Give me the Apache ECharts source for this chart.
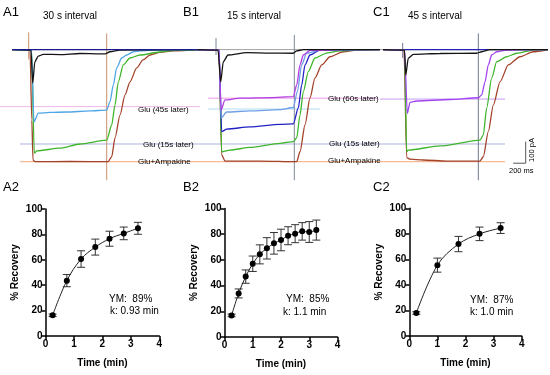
<!DOCTYPE html>
<html><head><meta charset="utf-8">
<script src="https://cdn.jsdelivr.net/npm/echarts@6/dist/echarts.min.js"></script>
<style>html,body{margin:0;padding:0;background:#fff}#c{width:550px;height:375px}</style>
</head><body><div id="c"></div>
<script>
// ===== Recovery data (bottom panels) =====
const timeA = [0.25,0.75,1.25,1.75,2.25,2.75,3.25];
const recA  = [16.3,43.6,60.6,70,76.6,80.8,84.8];
const errA  = [1,4.8,6.5,6.3,5.9,5,4.7];
const timeB = [0.25,0.5,0.75,1,1.25,1.5,1.75,2,2.25,2.5,2.75,3,3.25];
const recB  = [16.8,33.9,47,57,64.3,69,72.9,75.5,78.8,80.4,82.2,81.7,83.2];
const errB  = [1,3.5,5.2,6,7.4,8.3,8.4,8.4,7,7,6.8,8.1,7.8];
const timeC = [0.25,1,1.75,2.5,3.25];
const recC  = [18,55.5,72,80,84.5];
const errC  = [1,5.5,6,5.3,4.2];
const fitA = ['YM:  89%','k: 0.93 min'];
const fitB = ['YM:  85%','k: 1.1 min'];
const fitC = ['YM:  87%','k: 1.0 min'];
const yTickMax = 100, yTickStep = 20, xTickMax = 4, xTickStep = 1;

// ===== Current traces (top panels): [time ms from Glu onset, current pA] =====
const a1Navy  = [[-312,0],[2696,0]];
const a1Black = [[-312,0],[-8,-2],[19,-155],[54,-56],[109,-30],[189,-22],[456,-23],[776,-18],[1096,-20],[1176,-20],[1256,-10],[1416,-2],[2696,0]];
const a1Cyan  = [[-312,0],[0,-2],[40,-334],[109,-294],[296,-291],[563,-289],[936,-284],[1203,-280],[1256,-241],[1309,-164],[1363,-85],[1443,-39],[1523,-25],[1629,-10],[1736,-6],[2056,-2],[2696,0]];
const a1Green = [[-312,0],[0,-2],[45,-480],[83,-469],[456,-456],[776,-437],[1203,-419],[1283,-349],[1336,-256],[1389,-149],[1469,-71],[1576,-39],[1736,-25],[2056,-11],[2296,-4],[2696,0]];
const a1Brown = [[-312,0],[-24,0],[5,-326],[24,-511],[56,-519],[616,-518],[1224,-519],[1283,-496],[1336,-409],[1416,-303],[1496,-210],[1576,-149],[1683,-85],[1784,-48],[1896,-25],[2056,-13],[2264,-6],[2696,0]];

const b1Black   = [[-336,0],[-16,-2],[27,-149],[69,-56],[144,-25],[443,-14],[816,-16],[1189,-17],[1243,-6],[1349,0],[2576,0]];
const b1Magenta = [[-336,0],[0,-2],[32,-280],[96,-233],[336,-225],[816,-222],[1189,-218],[1243,-164],[1296,-71],[1349,-25],[1456,-4],[1936,0]];
const b1Light   = [[-336,0],[0,-2],[32,-317],[123,-289],[496,-284],[976,-278],[1189,-268],[1253,-195],[1323,-71],[1403,-16],[1616,-2],[2576,0]];
const b1Blue    = [[-336,0],[0,-2],[43,-380],[123,-368],[496,-358],[976,-346],[1189,-344],[1269,-270],[1323,-164],[1376,-71],[1456,-25],[1616,-2],[2576,0]];
const b1Green   = [[-336,0],[0,-2],[43,-473],[176,-465],[496,-453],[976,-434],[1189,-426],[1243,-409],[1296,-303],[1349,-195],[1429,-102],[1536,-39],[1723,-16],[1936,-6],[2256,0],[2576,0]];
const b1Brown   = [[-336,0],[0,-2],[43,-488],[96,-516],[656,-516],[1243,-519],[1296,-473],[1376,-349],[1456,-224],[1536,-131],[1643,-71],[1776,-33],[1989,-10],[2203,-2],[2576,0]];

const c1Navy   = [[-352,0],[2288,0]];
const c1Black  = [[-352,0],[-8,-2],[11,-118],[53,-40],[133,-22],[560,-18],[1147,-17],[1227,-10],[1360,0],[2288,0]];
const c1Purple = [[-352,0],[-8,-2],[37,-295],[80,-244],[187,-238],[720,-231],[1173,-223],[1227,-210],[1280,-149],[1333,-71],[1387,-25],[1467,-10],[1627,-2],[2288,0]];
const c1Green  = [[-352,0],[-8,-2],[27,-473],[53,-465],[560,-446],[1200,-419],[1253,-395],[1307,-270],[1387,-131],[1467,-56],[1627,-33],[1787,-17],[2053,-2],[2288,0]];
const c1Brown  = [[-352,0],[-16,-2],[27,-500],[80,-507],[293,-511],[667,-516],[1200,-516],[1253,-496],[1333,-380],[1413,-257],[1520,-149],[1653,-71],[1840,-33],[2053,-10],[2267,-2]];

// Glu application marks (ms from onset)
const pulseA = [-45, 1203], pulseB = [-48, 1205], pulseC = [-37, 1173];
// reference current levels (pA)
const lvlA45 = -264, lvl15 = -437, lvlAmp = -519, lvlB60 = -225, lvlBlt = -275, lvlC60 = -229;
const scaleMs = 200, scalePA = 100;

// ===== layout (top sweep offsets in ms along the shared top axis) =====
const onsetA = 504, onsetB = 3504, onsetC = 6480;
const FONT = 'Liberation Sans, Arial, sans-serif';

const shift = (arr, off) => arr.map(p => [p[0] + off, p[1]]);
function trace(data, off, color) {
  return { type:'line', xAxisIndex:0, yAxisIndex:0, data: shift(data, off), showSymbol:false,
    smooth:0.25, smoothMonotone:'x', lineStyle:{color, width:1.3}, z:5, silent:true, animation:false };
}
function hline(level, x1, x2, color) {
  return { type:'line', xAxisIndex:0, yAxisIndex:0, data:[[x1,level],[x2,level]], showSymbol:false,
    lineStyle:{color, width:1}, z:2, silent:true, animation:false };
}
function vline(t, v1, v2, color) {
  return { type:'line', xAxisIndex:0, yAxisIndex:0, data:[[t,v1],[t,v2]], showSymbol:false,
    lineStyle:{color, width:1}, z:3, silent:true, animation:false };
}

const series = [];
// reference lines
series.push(hline(0, 192, 8768, '#a0a0a0'));
series.push(hline(lvlA45, 0, 3200, '#f0b6ea'));
series.push(hline(lvl15, 320, 8080, '#a9b3df'));
series.push(hline(lvlAmp, 320, 8080, '#f2a87a'));
series.push(hline(lvlB60, 3328, 6048, '#e99ae9'));
series.push(hline(lvlBlt, 3328, 5120, '#b0dcf2'));
series.push(hline(lvlC60, 6080, 8080, '#c89cf2'));
// pulse marks
series.push(vline(onsetA + pulseA[0], 80, -45, '#c9906c'));
series.push(vline(onsetA + pulseA[1], 75, -605, '#c9906c'));
series.push(vline(onsetB + pulseB[0], 54, -25, '#7d8898'));
series.push(vline(onsetB + pulseB[1], 68, -605, '#7d8898'));
series.push(vline(onsetC + pulseC[0], 31, -39, '#6c7890'));
series.push(vline(onsetC + pulseC[1], 75, -605, '#6c7890'));
// traces
series.push(trace(a1Brown, onsetA, '#a3432b'));
series.push(trace(a1Green, onsetA, '#3fb52c'));
series.push(trace(a1Cyan, onsetA, '#4fa6e6'));
series.push(trace(a1Black, onsetA, '#141414'));
series.push(trace(a1Navy, onsetA, '#1c1c8a'));
series.push(trace(b1Brown, onsetB, '#a3432b'));
series.push(trace(b1Green, onsetB, '#3fb52c'));
series.push(trace(b1Blue, onsetB, '#2222c4'));
series.push(trace(b1Light, onsetB, '#6e9fe8'));
series.push(trace(b1Magenta, onsetB, '#b23ee0'));
series.push(trace(b1Black, onsetB, '#141414'));
series.push(trace(c1Brown, onsetC, '#a3432b'));
series.push(trace(c1Navy, onsetC, '#2424b0'));
series.push(trace(c1Green, onsetC, '#3fb52c'));
series.push(trace(c1Purple, onsetC, '#a244f0'));
series.push(trace(c1Black, onsetC, '#141414'));
// scale bar
const sbX = 8411, sbY = -526;
series.push({ type:'line', xAxisIndex:0, yAxisIndex:0, showSymbol:false, silent:true, animation:false,
  data:[[sbX - scaleMs, sbY],[sbX, sbY],[sbX, sbY + scalePA]], lineStyle:{color:'#555', width:1}, z:6 });

// bottom panels
function recovery(idx, times, means, errs) {
  const pts = times.map((t,i) => [t, means[i]]);
  series.push({ type:'custom', xAxisIndex:idx, yAxisIndex:idx, silent:true, animation:false, z:3,
    data: times.map((t,i) => [t, means[i], errs[i]]),
    encode:{x:0, y:1},
    renderItem: (params, api) => {
      const x = api.value(0), y = api.value(1), e = api.value(2);
      const top = api.coord([x, y + e]), bot = api.coord([x, y - e]);
      const st = {stroke:'#333', lineWidth:1};
      return { type:'group', children:[
        {type:'line', shape:{x1:top[0], y1:top[1], x2:bot[0], y2:bot[1]}, style:st},
        {type:'line', shape:{x1:top[0]-4, y1:top[1], x2:top[0]+4, y2:top[1]}, style:st},
        {type:'line', shape:{x1:bot[0]-4, y1:bot[1], x2:bot[0]+4, y2:bot[1]}, style:st}
      ]};
    }
  });
  series.push({ type:'line', xAxisIndex:idx, yAxisIndex:idx, data:pts, smooth:0.35, silent:true, animation:false,
    symbol:'circle', symbolSize:6, itemStyle:{color:'#000'}, lineStyle:{color:'#222', width:1}, z:5 });
}
recovery(1, timeA, recA, errA);
recovery(2, timeB, recB, errB);
recovery(3, timeC, recC, errC);

const grids = [
  {left:0, top:28, width:550, height:162},
  {left:45.5, top:209, width:113.8, height:127},
  {left:224.5, top:208.5, width:113, height:128.5},
  {left:409.3, top:208.3, width:112.4, height:127.7}
];
const axLine = {show:true, lineStyle:{color:'#000', width:1.5}};
const axTick = {show:true, length:4, lineStyle:{color:'#000', width:1.5}};
const axLab = {color:'#000', fontSize:10, fontWeight:'bold', fontFamily:FONT, margin:3};
const nameSt = {color:'#000', fontSize:10, fontWeight:'bold', fontFamily:FONT};
const xAxes = [{gridIndex:0, type:'value', min:0, max:8800, show:false}];
const yAxes = [{gridIndex:0, type:'value', min:-650, max:100, show:false}];
for (let i = 1; i <= 3; i++) {
  xAxes.push({gridIndex:i, type:'value', min:0, max:xTickMax, interval:xTickStep, axisLine:axLine, axisTick:axTick,
    axisLabel:axLab, splitLine:{show:false}, name:'Time (min)', nameLocation:'middle', nameGap:22, nameTextStyle:nameSt});
  yAxes.push({gridIndex:i, type:'value', min:0, max:yTickMax, interval:yTickStep, axisLine:axLine, axisTick:axTick,
    axisLabel:axLab, splitLine:{show:false}, name:'% Recovery', nameLocation:'middle', nameGap:25, nameTextStyle:nameSt});
}

function txt(text, x, y, size, opts) {
  opts = opts || {};
  return { type:'text', x, y, rotation: opts.rot || 0, z:10, silent:true,
    style:{ text, fill: opts.color || '#000', font: (opts.weight || 'normal') + ' ' + size + 'px ' + FONT,
      align: opts.align || 'left', verticalAlign:'middle', textAlign: opts.align || 'left', textVerticalAlign:'middle' } };
}
const graphic = [
  txt('A1', 3, 12, 13), txt('B1', 183, 12, 13), txt('C1', 373, 12, 13),
  txt('A2', 3, 187, 13), txt('B2', 183, 187, 13), txt('C2', 373, 187, 13),
  txt('30 s interval', 43, 16, 10), txt('15 s interval', 227, 16, 10), txt('45 s interval', 408, 16, 10),
  txt('Glu (45s later)', 138, 110, 8), txt('Glu (15s later)', 143, 145, 8), txt('Glu+Ampakine', 138, 162, 8),
  txt('Glu (60s later)', 328, 99, 8), txt('Glu (15s later)', 329, 144, 8), txt('Glu+Ampakine', 328, 161, 8),
  txt('200 ms', 509, 171, 7.5), txt('100 pA', 532, 150, 7.5, {align:'center', rot:Math.PI/2}),
  txt(fitA[0], 109, 299, 10), txt(fitA[1], 110, 311, 10),
  txt(fitB[0], 286, 299, 10), txt(fitB[1], 283, 312, 10),
  txt(fitC[0], 470, 300, 10), txt(fitC[1], 470, 312, 10)
];

const chart = echarts.init(document.getElementById('c'), null, {renderer:'canvas'});
chart.setOption({ animation:false, grid:grids, xAxis:xAxes, yAxis:yAxes, series, graphic });
</script></body></html>
